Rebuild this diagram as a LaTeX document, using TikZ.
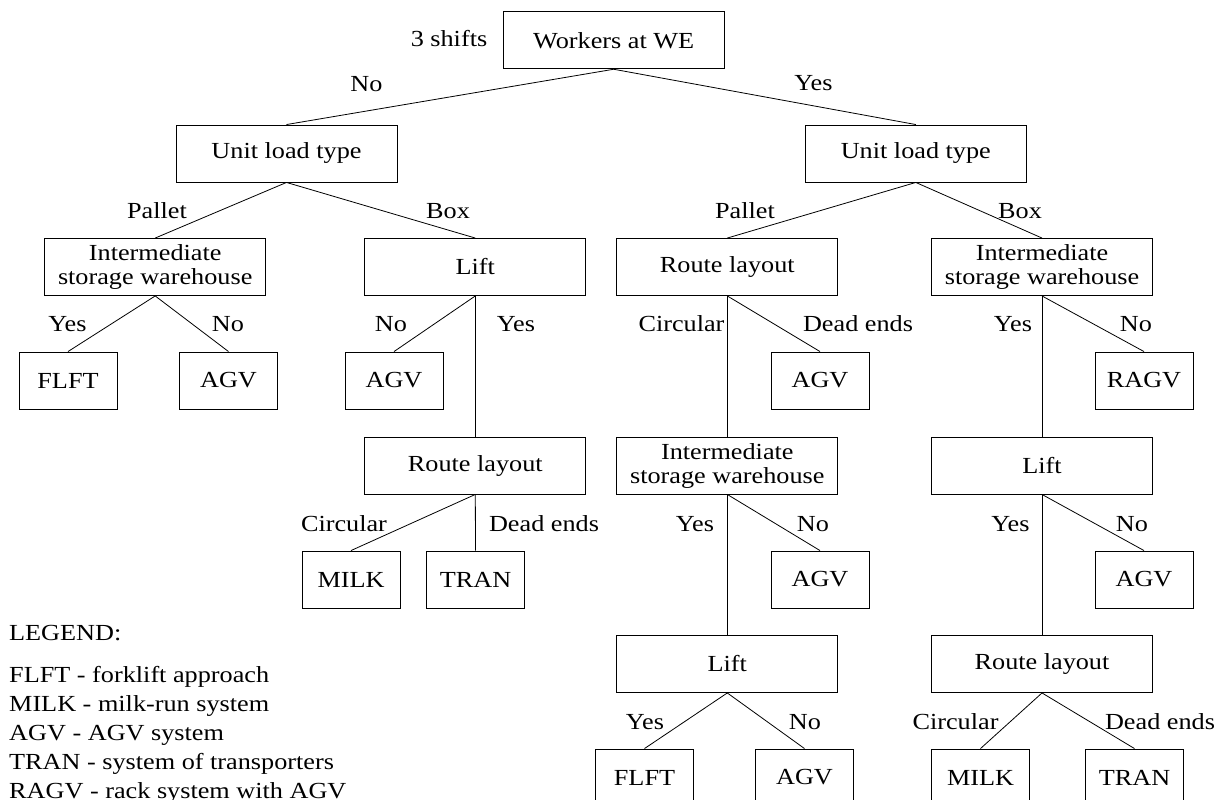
\documentclass[tikz,border=0pt]{standalone}
\usepackage{fontspec}
\setmainfont{Liberation Serif}[FakeStretch=1.14]
\usepackage{tikz}

\begin{document}
\begin{tikzpicture}[x=1pt,y=-1pt,
  bigbox/.style={draw, line width=0.9pt, minimum width=221pt, minimum height=57pt,
    inner sep=0pt, align=center, font=\fontsize{23}{24}\selectfont},
  smallbox/.style={draw, line width=0.9pt, minimum width=98pt, minimum height=57pt,
    inner sep=0pt, font=\fontsize{23}{24}\selectfont},
  lbl/.style={anchor=base, inner sep=0pt, font=\fontsize{23}{24}\selectfont},
  leg/.style={anchor=base west, inner sep=0pt, font=\fontsize{23}{24}\selectfont},
  edge/.style={line width=0.8pt}]

\useasboundingbox (0,0) rectangle (1223,800);

%% decision boxes
\node[bigbox] (root)   at (613.7,40.3)  {Workers at WE};
\node[bigbox] (ultL)   at (286.5,153.5) {Unit load type};
\node[bigbox] (ultR)   at (915.8,153.5) {Unit load type};
\node[bigbox] (iswA)   at (155.2,267)   {Intermediate\\storage warehouse};
\node[bigbox] (liftA)  at (475.3,267)   {Lift};
\node[bigbox] (routeA) at (727.3,267)   {Route layout};
\node[bigbox] (iswB)   at (1042,267)    {Intermediate\\storage warehouse};
\node[bigbox] (routeB) at (475.3,465.5) {Route layout};
\node[bigbox] (iswC)   at (727.3,465.5) {Intermediate\\storage warehouse};
\node[bigbox] (liftB)  at (1042,465.5)  {Lift};
\node[bigbox] (liftC)  at (727.3,664)   {Lift};
\node[bigbox] (routeC) at (1042,664)    {Route layout};

%% end boxes
\node[smallbox] (flftA) at (68,380.5)    {FLFT};
\node[smallbox] (agvA)  at (228.5,380.5) {AGV};
\node[smallbox] (agvB)  at (394,380.5)   {AGV};
\node[smallbox] (agvC)  at (820,380.5)   {AGV};
\node[smallbox] (ragv)  at (1144,380.5)  {RAGV};
\node[smallbox] (milkA) at (351,579.5)   {MILK};
\node[smallbox] (tranA) at (475.5,579.5) {TRAN};
\node[smallbox] (agvD)  at (820,579.5)   {AGV};
\node[smallbox] (agvE)  at (1144,579.5)  {AGV};
\node[smallbox] (flftB) at (644.5,777.5) {FLFT};
\node[smallbox] (agvF)  at (804.5,777.5) {AGV};
\node[smallbox] (milkB) at (980.5,777.5) {MILK};
\node[smallbox] (tranB) at (1134.5,777.5) {TRAN};

%% edges
\draw[edge] (root.south) -- (ultL.north);
\draw[edge] (root.south) -- (ultR.north);
\draw[edge] (ultL.south) -- (iswA.north);
\draw[edge] (ultL.south) -- (liftA.north);
\draw[edge] (ultR.south) -- (routeA.north);
\draw[edge] (ultR.south) -- (iswB.north);
\draw[edge] (iswA.south) -- (flftA.north);
\draw[edge] (iswA.south) -- (agvA.north);
\draw[edge] (liftA.south) -- (agvB.north);
\draw[edge] (liftA.south) -- (routeB.north);
\draw[edge] (routeA.south) -- (iswC.north);
\draw[edge] (routeA.south) -- (agvC.north);
\draw[edge] (iswB.south) -- (liftB.north);
\draw[edge] (iswB.south) -- (ragv.north);
\draw[edge] (routeB.south) -- (milkA.north);
\draw[edge] (routeB.south) -- (tranA.north);
\draw[edge] (iswC.south) -- (liftC.north);
\draw[edge] (iswC.south) -- (agvD.north);
\draw[edge] (liftB.south) -- (routeC.north);
\draw[edge] (liftB.south) -- (agvE.north);
\draw[edge] (liftC.south) -- (flftB.north);
\draw[edge] (liftC.south) -- (agvF.north);
\draw[edge] (routeC.south) -- (milkB.north);
\draw[edge] (routeC.south) -- (tranB.north);

%% edge labels
\node[lbl] (shifts) at (449,46.7) {3 shifts};
\node[lbl] (noT)    at (366.5,92) {No};
\node[lbl] (yesT)   at (813.5,90) {Yes};
\node[lbl] (palL)   at (157,218.3) {Pallet};
\node[lbl] (boxL)   at (448,218.3) {Box};
\node[lbl] (palR)   at (745,218.3) {Pallet};
\node[lbl] (boxR)   at (1020,218.3) {Box};
\node[lbl] (yesA)   at (67.5,331.7) {Yes};
\node[lbl] (noA)    at (228,331.7) {No};
\node[lbl] (noB)    at (391,331.7) {No};
\node[lbl] (yesB)   at (516,331.7) {Yes};
\node[lbl] (circA)  at (681.5,331.7) {Circular};
\node[lbl] (deadA)  at (858,331.7) {Dead ends};
\node[lbl] (yesC)   at (1013,331.7) {Yes};
\node[lbl] (noC)    at (1136,331.7) {No};
\node[lbl] (circB)  at (344,531.7) {Circular};
\node[lbl] (deadB)  at (544,531.7) {Dead ends};
\node[lbl] (yesD)   at (695,531.7) {Yes};
\node[lbl] (noD)    at (813,531.7) {No};
\node[lbl] (yesE)   at (1010.5,531.7) {Yes};
\node[lbl] (noE)    at (1132,531.7) {No};
\node[lbl] (yesF)   at (645,729.5) {Yes};
\node[lbl] (noF)    at (805,729.5) {No};
\node[lbl] (circC)  at (955.5,729.5) {Circular};
\node[lbl] (deadC)  at (1160,729.5) {Dead ends};

%% legend
\node[leg] (legT) at (9,640)   {LEGEND:};
\node[leg] (leg1) at (9,682.7) {FLFT - forklift approach};
\node[leg] (leg2) at (9,711.7) {MILK - milk-run system};
\node[leg] (leg3) at (9,740)   {AGV - AGV system};
\node[leg] (leg4) at (9,769)   {TRAN - system of transporters};
\node[leg] (leg5) at (9,798)   {RAGV - rack system with AGV};
\end{tikzpicture}
\end{document}
